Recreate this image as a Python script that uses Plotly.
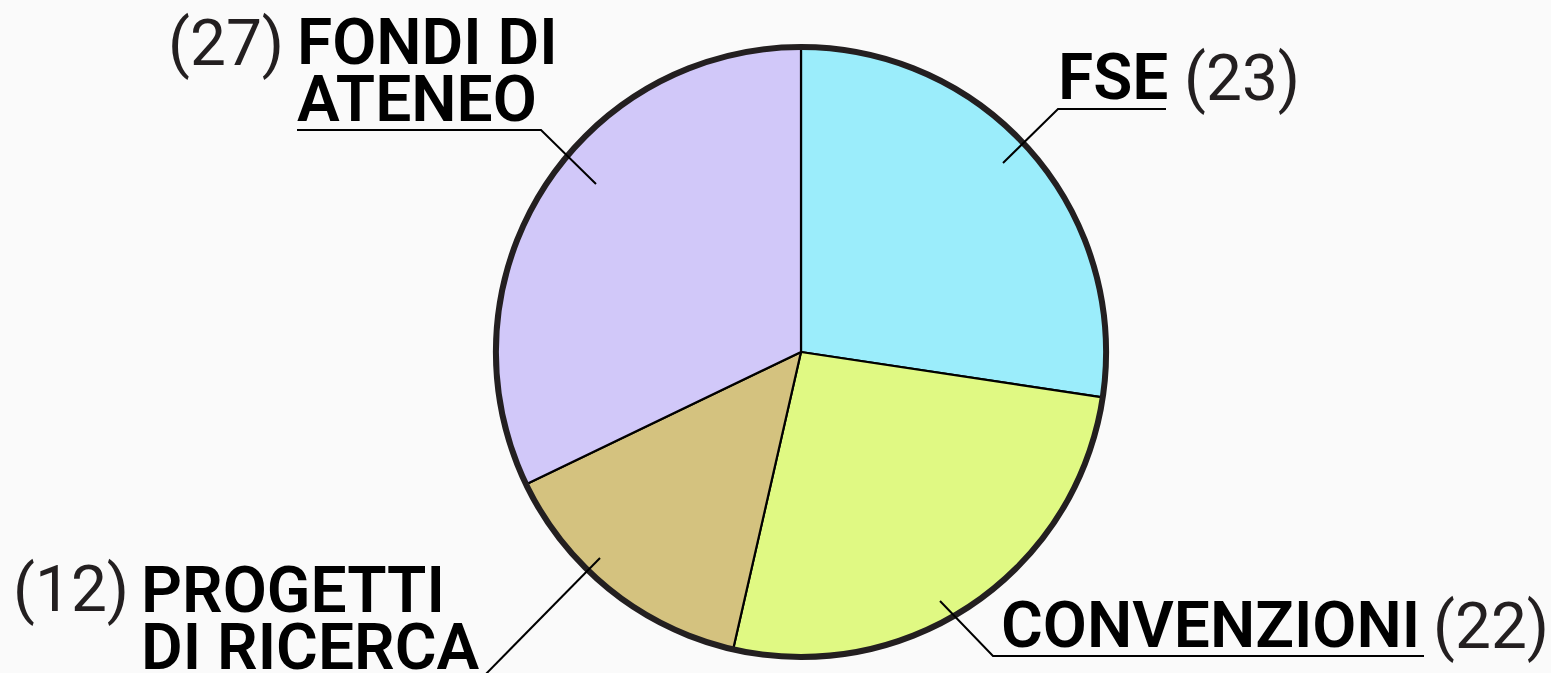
import plotly.graph_objects as go

# ---- data ----
categories = ["FSE", "CONVENZIONI", "PROGETTI DI RICERCA", "FONDI DI ATENEO"]
values = [23, 22, 12, 27]
colors = ["#9BEDFB", "#E0F983", "#D4C27F", "#D1C8F9"]

W, H = 1551, 673
BG = "#FAFAFA"


def px(x):
    return x / W


def py(y):
    return 1 - y / H


# pie geometry (pixels)
CX, CY, R = 801, 352, 305
dom_x = [px(CX - R), px(CX + R)]
dom_y = [py(CY + R), py(CY - R)]

fig = go.Figure()
fig.add_trace(go.Pie(
    labels=categories, values=values, sort=False, direction="clockwise", rotation=0,
    marker=dict(colors=colors, line=dict(color="#000000", width=2.2)),
    textinfo="none", hoverinfo="label+value", showlegend=False,
    domain=dict(x=dom_x, y=dom_y),
))
# outer dark ring
fig.add_trace(go.Pie(
    labels=["ring"], values=[1], sort=False,
    marker=dict(colors=["rgba(0,0,0,0)"], line=dict(color="#231F20", width=6)),
    textinfo="none", hoverinfo="skip", showlegend=False,
    domain=dict(x=dom_x, y=dom_y),
))

NAME_FONT = dict(family="Roboto", size=64, color="#000000", weight=600)
NUM_FONT = dict(family="Roboto", size=64, color="#231F20", weight=400)


def label(text, x, y, font, anchor="left"):
    fig.add_annotation(text=text, x=px(x), y=py(y), xref="paper", yref="paper",
                       xanchor=anchor, yanchor="middle", showarrow=False, font=font,
                       borderpad=0)


# FONDI DI ATENEO
label("(27)", 167, 43, NUM_FONT)
label("FONDI DI", 296, 42, NAME_FONT)
label("ATENEO", 296, 99, NAME_FONT)
# FSE
label("FSE", 1057, 77, NAME_FONT)
label("(23)", 1183, 78, NUM_FONT)
# CONVENZIONI
label("CONVENZIONI", 1000, 625, NAME_FONT)
label("(22)", 1432, 626, NUM_FONT)
# PROGETTI DI RICERCA
label("(12)", 12, 589, NUM_FONT)
label("PROGETTI", 140, 590, NAME_FONT)
label("DI RICERCA", 140, 647, NAME_FONT)

# leader lines
leaders = [
    [(1003, 163), (1058, 109), (1166, 109)],
    [(596, 184), (541, 130), (297, 130)],
    [(940, 601), (993, 656), (1424, 656)],
    [(600, 558), (480, 680)],
]
for pts in leaders:
    path = "M " + " L ".join(f"{px(x):.5f},{py(y):.5f}" for x, y in pts)
    fig.add_shape(type="path", path=path, xref="paper", yref="paper",
                  line=dict(color="#000000", width=2))

fig.update_layout(
    width=W, height=H, margin=dict(l=0, r=0, t=0, b=0),
    paper_bgcolor=BG, plot_bgcolor=BG,
)
fig.write_html("out.html", config={"displayModeBar": False})

# remove default browser body margin so the figure fills the window
with open("out.html", "r", encoding="utf-8") as f:
    html = f.read()
html = html.replace("<head>", "<head><style>html,body{margin:0;padding:0;background:#FAFAFA;overflow:hidden}</style>", 1)
with open("out.html", "w", encoding="utf-8") as f:
    f.write(html)
